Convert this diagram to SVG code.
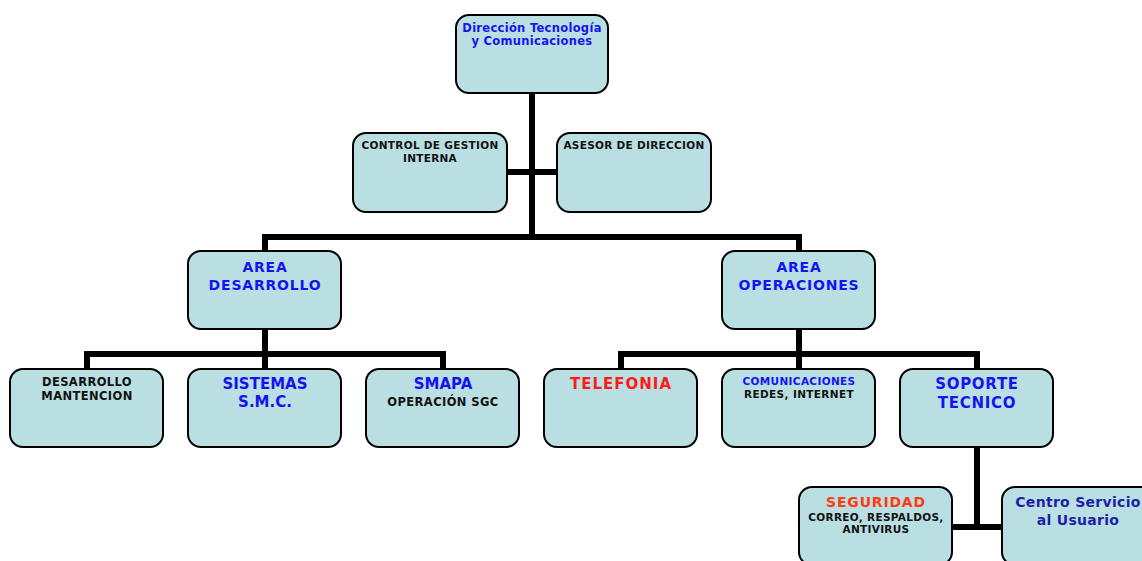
<svg xmlns="http://www.w3.org/2000/svg" width="1142" height="561" viewBox="0 0 1142 561">
<style>
.box{fill:#b9dfe2;stroke:#000;stroke-width:2}
.c{stroke:#000;stroke-width:6;fill:none}
text{font-family:"DejaVu Sans","Liberation Sans",sans-serif;font-weight:bold;text-anchor:middle}
.b{fill:#1414f0}
.k{fill:#111}
.r{fill:#ff1a1a}
.o{fill:#ff3b12}
.n{fill:#1f1fa6}
.t{font-size:11.5px;letter-spacing:0.3px}
.h{font-size:10.5px;letter-spacing:0.3px}
.a{font-size:14px;letter-spacing:0.8px}
.m{font-size:11.5px;letter-spacing:0.4px}
.l{font-size:15px}
.l7{font-size:15px;letter-spacing:0.7px}
.l1{font-size:15px;letter-spacing:1px}
.q{font-size:10.5px;letter-spacing:0.35px}
</style>
<rect width="1142" height="561" fill="#fff"/>
<g id="connectors">
<path class="c" d="M532 93V237M507 172H557M265 252V237H799V252"/>
<path class="c" d="M265 329V354M87 369V354H443V369M265 354V369"/>
<path class="c" d="M799 329V354M621 369V354H977V369M799 354V369"/>
<path class="c" d="M977 447V527M952 527H1002"/>
</g>
<g id="n-direccion"><rect class="box" x="456" y="15" width="152" height="78" rx="13"/><text class="b t" x="532" y="32">Dirección Tecnología</text><text class="b t" x="532" y="45">y Comunicaciones</text></g>
<g id="n-control"><rect class="box" x="353" y="133" width="154" height="79" rx="13"/><text class="k h" x="430" y="149">CONTROL DE GESTION</text><text class="k h" x="430" y="162">INTERNA</text></g>
<g id="n-asesor"><rect class="box" x="557" y="133" width="154" height="79" rx="13"/><text class="k h" x="634" y="149">ASESOR DE DIRECCION</text></g>
<g id="n-area-des"><rect class="box" x="188" y="251" width="153" height="78" rx="13"/><text class="b a" x="265" y="272">AREA</text><text class="b a" x="265" y="290">DESARROLLO</text></g>
<g id="n-area-op"><rect class="box" x="722" y="251" width="153" height="78" rx="13"/><text class="b a" x="799" y="272">AREA</text><text class="b a" x="799" y="290">OPERACIONES</text></g>
<g id="n-des-mant"><rect class="box" x="10" y="369" width="153" height="78" rx="13"/><text class="k m" x="87" y="386">DESARROLLO</text><text class="k m" x="87" y="400">MANTENCION</text></g>
<g id="n-sistemas"><rect class="box" x="188" y="369" width="153" height="78" rx="13"/><text class="b l" x="265" y="389">SISTEMAS</text><text class="b l" x="265" y="407">S.M.C.</text></g>
<g id="n-smapa"><rect class="box" x="366" y="369" width="153" height="78" rx="13"/><text class="b l" x="443" y="389">SMAPA</text><text class="k m" x="443" y="406">OPERACIÓN SGC</text></g>
<g id="n-telefonia"><rect class="box" x="544" y="369" width="153" height="78" rx="13"/><text class="r l1" x="621" y="389">TELEFONIA</text></g>
<g id="n-comunicaciones"><rect class="box" x="722" y="369" width="153" height="78" rx="13"/><text class="b q" x="799" y="385">COMUNICACIONES</text><text class="k q" x="799" y="398">REDES, INTERNET</text></g>
<g id="n-soporte"><rect class="box" x="900" y="369" width="153" height="78" rx="13"/><text class="b l7" x="977" y="389">SOPORTE</text><text class="b l7" x="977" y="408">TECNICO</text></g>
<g id="n-seguridad"><rect class="box" x="799" y="487" width="153" height="78" rx="13"/><text class="o a" x="876" y="507">SEGURIDAD</text><text class="k h" x="876" y="521">CORREO, RESPALDOS,</text><text class="k h" x="876" y="533">ANTIVIRUS</text></g>
<g id="n-centro"><rect class="box" x="1002" y="487" width="153" height="78" rx="13"/><text class="n a" x="1078" y="507" style="letter-spacing:0.3px">Centro Servicio</text><text class="n a" x="1078" y="525" style="letter-spacing:0.3px">al Usuario</text></g>
</svg>
